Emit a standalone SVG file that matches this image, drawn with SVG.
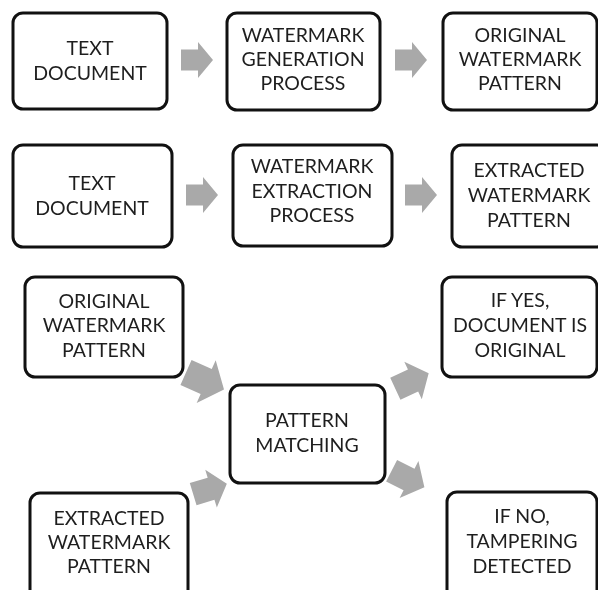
<svg xmlns="http://www.w3.org/2000/svg" width="598" height="590" viewBox="0 0 598 590">
<defs>
<style>
.box{fill:#ffffff;stroke:#111111;stroke-width:3}
.lbl{font-family:"Lato","Liberation Sans",sans-serif;font-size:19.5px;fill:#1e1e1e;text-anchor:middle}
.arr{fill:#a9a9a9}
</style>
<filter id="soft" x="-20%" y="-20%" width="140%" height="140%"><feGaussianBlur stdDeviation="0.7"/></filter>
<path id="ar" d="M-16,-10.5 H1 V-18 L16,0 L1,18 V10.5 H-16 Z"/>
</defs>
<rect width="598" height="590" fill="#ffffff"/>
<g id="connectors" class="arr" filter="url(#soft)">
<use href="#ar" transform="translate(197,60)"/>
<use href="#ar" transform="translate(411,60)"/>
<use href="#ar" transform="translate(202,195)"/>
<use href="#ar" transform="translate(421,195)"/>
<use href="#ar" transform="translate(205,381) rotate(24) scale(1.3)"/>
<use href="#ar" transform="translate(210,489) rotate(-17) scale(1.1)"/>
<use href="#ar" transform="translate(412,381) rotate(-25) scale(1.15)"/>
<use href="#ar" transform="translate(408,479) rotate(27) scale(1.15)"/>
</g>
<g id="n1"><rect class="box" x="13" y="13" width="154" height="96" rx="10"/>
<text class="lbl" x="90" y="55">TEXT</text><text class="lbl" x="90" y="80">DOCUMENT</text></g>
<g id="n2"><rect class="box" x="227" y="13" width="153" height="97" rx="10"/>
<text class="lbl" x="303" y="42">WATERMARK</text><text class="lbl" x="303" y="66">GENERATION</text><text class="lbl" x="303" y="90">PROCESS</text></g>
<g id="n3"><rect class="box" x="443" y="13" width="154" height="97" rx="10"/>
<text class="lbl" x="520" y="42">ORIGINAL</text><text class="lbl" x="520" y="66">WATERMARK</text><text class="lbl" x="520" y="90">PATTERN</text></g>
<g id="n4"><rect class="box" x="13" y="145" width="159" height="102" rx="10"/>
<text class="lbl" x="92" y="190">TEXT</text><text class="lbl" x="92" y="215">DOCUMENT</text></g>
<g id="n5"><rect class="box" x="233" y="145" width="159" height="101" rx="10"/>
<text class="lbl" x="312" y="173">WATERMARK</text><text class="lbl" x="312" y="198">EXTRACTION</text><text class="lbl" x="312" y="222">PROCESS</text></g>
<g id="n6"><rect class="box" x="452" y="145" width="155" height="102" rx="10"/>
<text class="lbl" x="529" y="177">EXTRACTED</text><text class="lbl" x="529" y="202">WATERMARK</text><text class="lbl" x="529" y="227">PATTERN</text></g>
<g id="n7"><rect class="box" x="25" y="277" width="158" height="100" rx="10"/>
<text class="lbl" x="104" y="308">ORIGINAL</text><text class="lbl" x="104" y="332">WATERMARK</text><text class="lbl" x="104" y="357">PATTERN</text></g>
<g id="n8"><rect class="box" x="30" y="493" width="158" height="110" rx="10"/>
<text class="lbl" x="109" y="525">EXTRACTED</text><text class="lbl" x="109" y="549">WATERMARK</text><text class="lbl" x="109" y="573">PATTERN</text></g>
<g id="n9"><rect class="box" x="230" y="385" width="155" height="98" rx="10"/>
<text class="lbl" x="307" y="427">PATTERN</text><text class="lbl" x="307" y="452">MATCHING</text></g>
<g id="n10"><rect class="box" x="442" y="277" width="155" height="100" rx="10"/>
<text class="lbl" x="520" y="307">IF YES,</text><text class="lbl" x="520" y="332">DOCUMENT IS</text><text class="lbl" x="520" y="357">ORIGINAL</text></g>
<g id="n11"><rect class="box" x="447" y="492" width="150" height="110" rx="10"/>
<text class="lbl" x="522" y="523">IF NO,</text><text class="lbl" x="522" y="548">TAMPERING</text><text class="lbl" x="522" y="573">DETECTED</text></g>
</svg>
